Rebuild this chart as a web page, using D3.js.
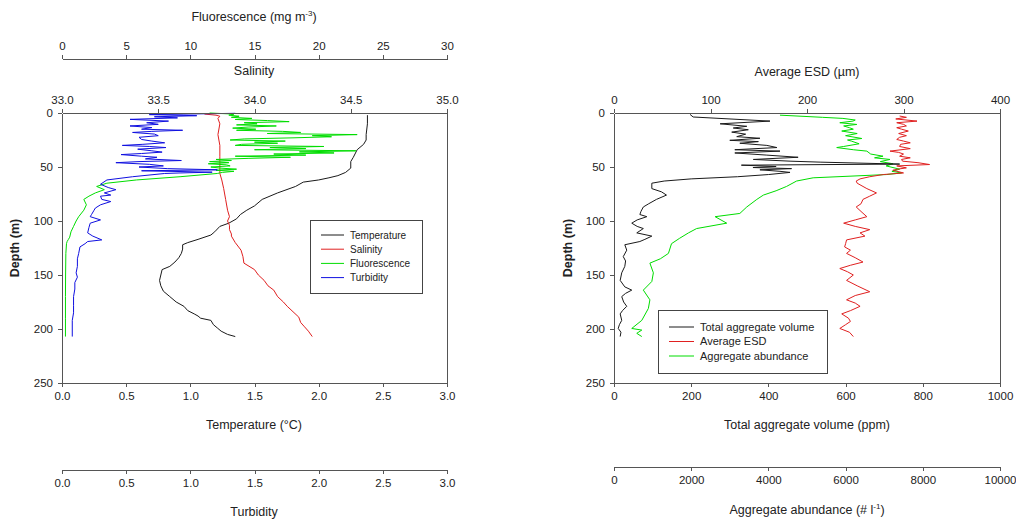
<!DOCTYPE html>
<html><head><meta charset="utf-8">
<script src="https://cdn.jsdelivr.net/npm/d3@7"></script>
<style>
body{margin:0;background:#fff;}
svg{display:block;font-family:"Liberation Sans",Arial,sans-serif;}
.axis path,.axis line{stroke:#555;shape-rendering:crispEdges;}
.axis text{fill:#222;font-size:11.5px;font-family:"Liberation Sans",Arial,sans-serif;}
.title{fill:#222;font-size:12.5px;text-anchor:middle;}
</style></head>
<body><svg id="c" width="1016" height="519"></svg>
<script>
// ---- data: [depth (m), value] ----
const depthTicks = [0, 50, 100, 150, 200, 250];
const salinityTicks = [33.0, 33.5, 34.0, 34.5, 35.0];
const fluoTicks = [0, 5, 10, 15, 20, 25, 30];
const tempTicks = [0, 0.5, 1, 1.5, 2, 2.5, 3];
const turbTicks = [0, 0.5, 1, 1.5, 2, 2.5, 3];
const esdTicks = [0, 100, 200, 300, 400];
const volumeTicks = [0, 200, 400, 600, 800, 1000];
const abundanceTicks = [0, 2000, 4000, 6000, 8000, 10000];

const leftLegend = ["Temperature", "Salinity", "Fluorescence", "Turbidity"];
const rightLegend = ["Total aggregate volume", "Average ESD", "Aggregate abundance"];

const temperature = [[2,2.38],[10,2.38],[20,2.37],[25,2.37],[29,2.35],[34,2.30],[41,2.27],[45,2.25],[51,2.25],[55,2.21],[58,2.15],[60,2.08],[62,2.00],[64,1.88],[68,1.82],[74,1.68],[80,1.56],[86,1.50],[90,1.44],[94,1.39],[98,1.36],[102,1.30],[105,1.23],[110,1.19],[113,1.16],[117,1.06],[120,0.98],[122,0.94],[126,0.94],[130,0.93],[134,0.91],[138,0.88],[142,0.84],[145,0.78],[150,0.77],[155,0.76],[160,0.77],[165,0.79],[170,0.84],[175,0.89],[179,0.95],[183,0.98],[186,1.03],[188,1.06],[190,1.08],[192,1.16],[196,1.18],[199,1.21],[202,1.24],[205,1.29],[207,1.35]];

const salinity = [[1,33.74],[2,33.80],[3,33.82],[5,33.81],[10,33.82],[20,33.81],[30,33.82],[40,33.82],[50,33.82],[56,33.82],[62,33.83],[70,33.84],[80,33.85],[90,33.86],[96,33.87],[100,33.86],[104,33.87],[108,33.87],[112,33.88],[114,33.88],[120,33.90],[127,33.93],[133,33.94],[139,33.945],[145,34.00],[150,34.02],[155,34.05],[160,34.07],[164,34.10],[170,34.12],[175,34.15],[179,34.17],[184,34.20],[189,34.23],[194,34.24],[198,34.26],[202,34.28],[207,34.30]];

const fluorescence = [[0,11.5],[1,13.4],[2,13.0],[3,13.8],[4,13.2],[5,14.8],[6,13.5],[7,16.0],[8,17.7],[9,14.2],[10,15.2],[11,13.6],[12,16.7],[13,14.5],[14,13.3],[15,15.1],[16,13.6],[17,17.2],[18,18.6],[19,16.0],[20,23.0],[21,19.5],[22,21.0],[23,18.0],[24,14.2],[25,13.1],[26,17.4],[27,15.0],[28,16.8],[29,14.0],[30,13.5],[31,20.4],[32,16.2],[33,19.0],[34,15.0],[35,22.9],[36,18.5],[37,21.2],[38,16.5],[39,19.0],[40,13.5],[41,17.8],[42,14.5],[43,12.0],[44,13.2],[45,11.5],[46,13.0],[47,11.4],[48,12.8],[49,13.1],[50,11.6],[51,12.3],[52,13.6],[53,12.0],[54,13.4],[55,12.5],[56,12.1],[59,9.2],[62,5.8],[65,3.5],[68,2.7],[71,3.3],[74,2.6],[77,2.1],[80,1.7],[85,1.9],[90,1.7],[96,1.3],[100,1.1],[105,0.9],[110,0.7],[115,0.6],[117,0.5],[119,0.4],[121,0.35],[130,0.3],[150,0.28],[170,0.27],[190,0.27],[207,0.27]];

const turbidity = [[0.3,1.35],[1,0.95],[1.5,0.68],[2.5,1.05],[3.5,0.72],[4.5,0.90],[5.9,0.53],[7.5,0.83],[9,0.66],[10.5,0.75],[12,0.53],[13.5,0.70],[15,0.62],[16,0.94],[17,0.70],[18,0.55],[19.5,0.72],[21,0.75],[22.5,0.60],[24.5,0.62],[26,0.70],[27.6,0.80],[29,0.63],[30,0.47],[31,0.68],[32,0.81],[33.5,0.59],[35,0.70],[36.2,0.78],[37.5,0.62],[38.5,0.46],[40,0.62],[41,0.74],[42.5,0.65],[44,0.93],[45,0.60],[46,0.42],[47.5,0.68],[49,0.79],[50,0.60],[51.5,0.82],[52.6,1.21],[53.5,0.62],[54.8,1.17],[55.5,0.92],[56,0.80],[59,0.55],[62,0.35],[66,0.30],[69,0.36],[71,0.42],[74,0.33],[76,0.38],[77,0.30],[80,0.31],[82,0.38],[85,0.30],[88,0.26],[90,0.25],[94,0.23],[96,0.22],[99,0.30],[102,0.22],[106,0.21],[111,0.20],[114,0.24],[117.5,0.31],[119,0.20],[121,0.18],[124,0.14],[130,0.13],[135,0.12],[142,0.12],[148,0.11],[152,0.12],[157,0.10],[163,0.10],[170,0.09],[178,0.09],[185,0.09],[192,0.08],[200,0.08],[207,0.08]];

const aggregateVolume = [[1.3,197],[3.7,205],[7.5,404],[10,275],[12.3,344],[13.9,309],[15.5,348],[17.7,305],[19.6,341],[21.9,318],[23.4,378],[25.3,300],[26.5,374],[28,326],[30,396],[32,422],[34,313],[35.3,430],[37,313],[39,396],[41,477],[43,361],[44.6,456],[45.5,534],[47.3,740],[48.3,330],[49.5,420],[50.5,360],[51.5,460],[52.6,378],[54,430],[55,456],[57,400],[59,320],[61,200],[63,130],[65,98],[70,98],[73,123],[76,136],[80,110],[84,90],[87,76],[91,70],[94,67],[96,85],[99,60],[102,46],[105,60],[107,76],[111,59],[114,98],[117,80],[119,67],[122,28],[127,33],[133,24],[137,30],[142,28],[148,20],[155,16],[161,28],[164,46],[167,30],[170,20],[175,25],[179,33],[183,22],[186,16],[192,20],[196,14],[199.5,11],[203,18],[207,16]];

const averageESD = [[2.8,296],[4,303],[5.5,292],[7.5,314],[9,293],[10.5,300],[12,303],[13.6,293],[15,298],[16.7,305],[19,295],[21,303],[22.5,296],[24.5,293],[26,300],[27.6,307],[29,297],[31,296],[33,307],[35.3,286],[36.5,295],[38,300],[40,296],[41.5,307],[43,298],[44.6,299],[46,315],[47.7,327],[49,293],[50.8,303],[52,294],[53,289],[55.5,300],[57,279],[59,265],[61,255],[63,251],[65,252],[70,262],[74,272],[77,265],[80,258],[84,256],[87,251],[92,257],[96,262],[99,250],[102,238],[105,250],[108,265],[111,255],[114,260],[117.5,241],[121,240],[124,239],[127,245],[130,241],[134,250],[138,258],[141,245],[144,234],[147,242],[150,248],[155,241],[160,252],[165.5,265],[169,250],[173,241],[176,250],[179,255],[183,245],[186,236],[190,243],[193,245],[196,240],[199.5,234],[203,244],[207,248]];

const aggregateAbundance = [[2,4300],[4,5400],[5,5930],[6.5,6250],[7.5,6190],[9,5850],[10.6,6290],[12,5950],[13.6,6100],[15,6200],[16.7,5900],[19,6300],[21,6000],[23.6,6420],[25,6050],[26,6150],[28.5,6350],[31,5950],[32,5770],[34,6200],[35.3,6550],[38,6650],[40,6970],[41.5,6750],[43,7150],[45,6900],[47,7230],[49,7050],[52,7400],[54,7200],[55.5,7450],[57,7060],[60,5160],[63,4730],[68,4470],[72,4200],[76,3870],[80,3700],[87,3440],[93,3260],[96,2620],[102,2920],[107,2140],[111,1930],[116,1700],[121,1490],[130,1410],[135,1200],[139,930],[148,1020],[156,980],[164,760],[173,930],[181,890],[192,720],[199.5,460],[201,720],[204,590],[207,720]];

// ---- drawing ----
const svg = d3.select("#c");
const COL = {black:"#1a1a1a", red:"#e02020", green:"#00dd00", blue:"#1010e0"};
const yTop = 113, yBottom = 383;
const y = d3.scaleLinear().domain([0, 250]).range([yTop, yBottom]);

function drawLine(g, xs, data, color) {
  g.append("path").datum(data)
    .attr("fill", "none").attr("stroke", color).attr("stroke-width", 1)
    .attr("stroke-linejoin", "round")
    .attr("d", d3.line().x(d => xs(d[1])).y(d => y(d[0])));
}
function axis(gen, tr, ticks, fmt) {
  return svg.append("g").attr("class", "axis").attr("transform", tr)
    .call(gen.tickValues(ticks).tickFormat(fmt).tickSize(4).tickSizeOuter(0).tickPadding(5));
}
function title(x, yy, txt) {
  return svg.append("text").attr("class", "title").attr("x", x).attr("y", yy).text(txt);
}
function legend(x0, y0, w, h, items, colors, dy, fs, lx0, lx1, tx) {
  const g = svg.append("g");
  g.append("rect").attr("x", x0).attr("y", y0).attr("width", w).attr("height", h)
    .attr("fill", "#fff").attr("stroke", "#444").attr("stroke-width", 1).attr("shape-rendering", "crispEdges");
  items.forEach((t, i) => {
    const yy = y0 + dy[0] + i * dy[1];
    g.append("line").attr("x1", lx0).attr("x2", lx1).attr("y1", yy).attr("y2", yy)
      .attr("stroke", colors[i]).attr("stroke-width", 1);
    g.append("text").attr("x", tx).attr("y", yy).attr("dy", "0.35em")
      .attr("font-size", fs).attr("fill", "#222").text(t);
  });
}

// Left panel
const L0 = 62, L1 = 447;
const xT = d3.scaleLinear().domain([0, 3]).range([L0, L1]);
const xS = d3.scaleLinear().domain([33, 35]).range([L0, L1]);
const xF = d3.scaleLinear().domain([0, 30]).range([L0, L1]);
const xB = d3.scaleLinear().domain([0, 3]).range([L0, L1]);

const gl = svg.append("g");
drawLine(gl, xT, temperature, COL.black);
drawLine(gl, xS, salinity, COL.red);
drawLine(gl, xF, fluorescence, COL.green);
drawLine(gl, xB, turbidity, COL.blue);

axis(d3.axisLeft(y), `translate(${L0},0)`, depthTicks, d3.format("d"));
axis(d3.axisTop(xS), `translate(0,${yTop})`, salinityTicks, d3.format(".1f"));
axis(d3.axisTop(xF), `translate(0,59)`, fluoTicks, d3.format("d"));
axis(d3.axisBottom(xT), `translate(0,${yBottom})`, tempTicks, d3.format(".1f"));
axis(d3.axisBottom(xB), `translate(0,470)`, turbTicks, d3.format(".1f"));
svg.append("line").attr("x1", L1).attr("x2", L1).attr("y1", yTop).attr("y2", yBottom)
  .attr("stroke", "#555").attr("shape-rendering", "crispEdges");

const ft = title(254, 21, "Fluorescence (mg m");
ft.append("tspan").attr("font-size", "8px").attr("dy", "-5").text("-3");
ft.append("tspan").attr("dy", "5").text(")");
title(254, 75, "Salinity");
title(254, 429, "Temperature (°C)");
title(254, 516, "Turbidity");
svg.append("text").attr("class", "title").attr("font-weight", "bold")
  .attr("transform", `translate(19,${(yTop + yBottom) / 2}) rotate(-90)`).text("Depth (m)");

legend(310, 220, 112, 73, leftLegend, [COL.black, COL.red, COL.green, COL.blue],
  [15, 14.2], "10px", 321, 344, 350);

// Right panel
const R0 = 614, R1 = 1000;
const xV = d3.scaleLinear().domain([0, 1000]).range([R0, R1]);
const xE = d3.scaleLinear().domain([0, 400]).range([R0, R1]);
const xA = d3.scaleLinear().domain([0, 10000]).range([R0, R1]);

const gr = svg.append("g");
drawLine(gr, xA, aggregateAbundance, COL.green);
drawLine(gr, xE, averageESD, COL.red);
drawLine(gr, xV, aggregateVolume, COL.black);

axis(d3.axisLeft(y), `translate(${R0},0)`, depthTicks, d3.format("d"));
axis(d3.axisTop(xE), `translate(0,${yTop})`, esdTicks, d3.format("d"));
axis(d3.axisBottom(xV), `translate(0,${yBottom})`, volumeTicks, d3.format("d"));
axis(d3.axisBottom(xA), `translate(0,467)`, abundanceTicks, d3.format("d"));
svg.append("line").attr("x1", R1).attr("x2", R1).attr("y1", yTop).attr("y2", yBottom)
  .attr("stroke", "#555").attr("shape-rendering", "crispEdges");

title(807, 76, "Average ESD (µm)");
title(807, 429, "Total aggregate volume (ppm)");
const at = title(807, 514, "Aggregate abundance (# l");
at.append("tspan").attr("font-size", "8px").attr("dy", "-5").text("-1");
at.append("tspan").attr("dy", "5").text(")");
svg.append("text").attr("class", "title").attr("font-weight", "bold")
  .attr("transform", `translate(572,${(yTop + yBottom) / 2}) rotate(-90)`).text("Depth (m)");

legend(658, 310, 169, 63, rightLegend, [COL.black, COL.red, COL.green],
  [17, 14.5], "11px", 669, 694, 700);
</script></body></html>
